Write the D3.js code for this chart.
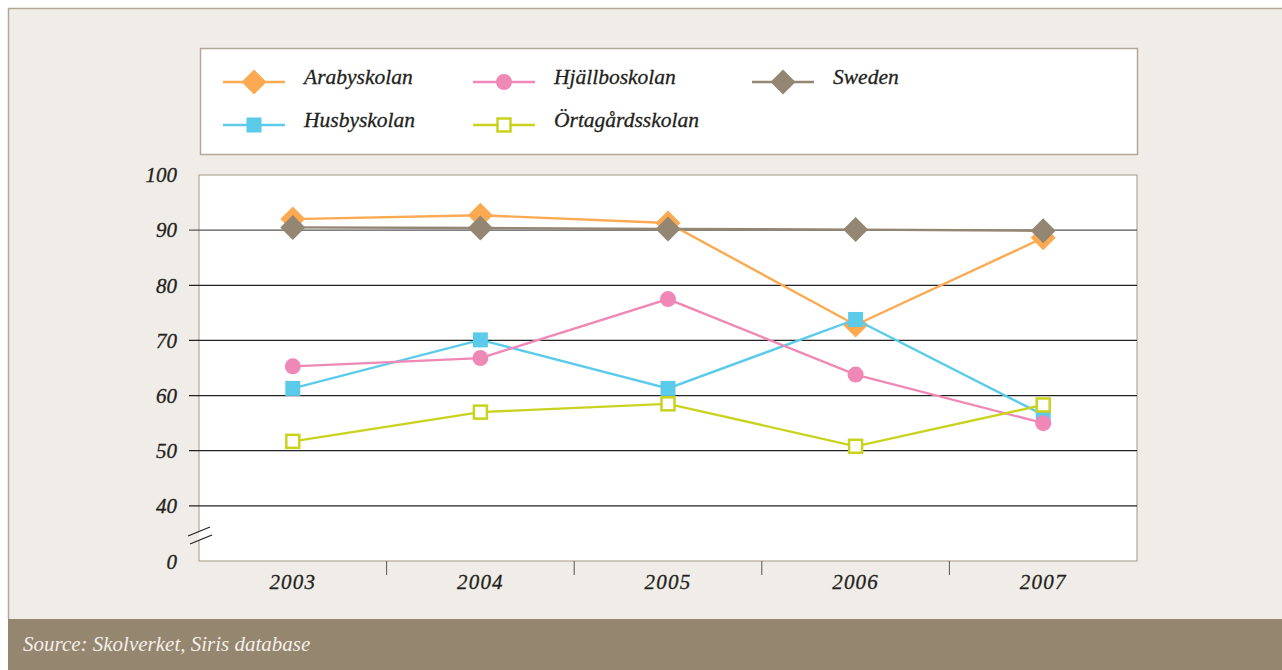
<!DOCTYPE html>
<html><head><meta charset="utf-8">
<script src="https://cdn.jsdelivr.net/npm/d3@7"></script>
<style>
html,body{margin:0;padding:0;background:#fff;}
svg{display:block;}
text{font-family:"Liberation Serif","DejaVu Serif",serif;font-style:italic;}
</style></head>
<body>
<svg id="chart" width="1282" height="670"></svg>
<script>
const years = ["2003","2004","2005","2006","2007"];
const arabyskolan = [92.0, 92.7, 91.3, 72.8, 88.6];
const hjallboskolan = [65.3, 66.8, 77.5, 63.8, 55.0];
const husbyskolan = [61.3, 70.1, 61.3, 73.8, 56.5];
const ortagardsskolan = [51.7, 57.0, 58.5, 50.8, 58.3];
const sweden = [90.5, 90.4, 90.2, 90.1, 89.9];
const yTicks = [100, 90, 80, 70, 60, 50, 40];
const yBreakLabel = "0";
const sourceText = "Source: Skolverket, Siris database";

const series = [
  {name:"Sweden", values:sweden, color:"#938672", shape:"diamond", col:2, row:0},
  {name:"Arabyskolan", values:arabyskolan, color:"#fbaa52", shape:"diamond", col:0, row:0},
  {name:"Hjällboskolan", values:hjallboskolan, color:"#ef88b7", shape:"circle", col:1, row:0},
  {name:"Husbyskolan", values:husbyskolan, color:"#5ccbea", shape:"square", col:0, row:1},
  {name:"Örtagårdsskolan", values:ortagardsskolan, color:"#c9d31e", shape:"hollow", col:1, row:1}
];
const drawOrder = ["Arabyskolan","Sweden","Husbyskolan","Hjällboskolan","Örtagårdsskolan"];

const svg = d3.select("#chart");
const bg = "#f0ece7", frame = "#b3a898", ink = "#231f20";

// background frame
svg.append("rect").attr("x",8).attr("y",8).attr("width",1274).attr("height",611).attr("fill",bg);
svg.append("line").attr("x1",8).attr("x2",1282).attr("y1",8.5).attr("y2",8.5).attr("stroke",frame).attr("stroke-width",1.5);
svg.append("line").attr("x1",8.5).attr("x2",8.5).attr("y1",8).attr("y2",619).attr("stroke",frame).attr("stroke-width",1.5);
// footer
svg.append("rect").attr("x",8).attr("y",619).attr("width",1274).attr("height",51).attr("fill","#958670");
svg.append("text").attr("x",23).attr("y",651).attr("fill","#f3efe9").attr("font-size",21).text(sourceText);

// plot area
const L = 199, R = 1137, T = 175, B = 561;
const x = d3.scaleBand().domain(years).range([L, R]);
const y = d3.scaleLinear().domain([30, 100]).range([B, T]);

svg.append("rect").attr("x",L).attr("y",T).attr("width",R-L).attr("height",B-T)
  .attr("fill","#fff").attr("stroke",frame).attr("stroke-width",1.2);

// gridlines
svg.append("g").selectAll("line").data(yTicks.filter(d=>d<100)).join("line")
  .attr("x1",L-10).attr("x2",R).attr("y1",d=>y(d)).attr("y2",d=>y(d))
  .attr("stroke",d=>d===90?"#555":"#222").attr("stroke-width",1.2);

// y labels
svg.append("g").selectAll("text").data(yTicks).join("text")
  .attr("x",177).attr("y",d=>y(d)).attr("dy","0.35em").attr("text-anchor","end")
  .attr("font-size",21).attr("fill",ink).attr("stroke",ink).attr("stroke-width",0.3).text(d=>d);
svg.append("text").attr("x",177).attr("y",y(30)+1).attr("dy","0.35em").attr("text-anchor","end")
  .attr("font-size",21).attr("fill",ink).attr("stroke",ink).attr("stroke-width",0.3).text(yBreakLabel);

// axis break marks
const bk = svg.append("g");
bk.append("polygon").attr("points","188,537 210,528 212,535 190,544").attr("fill",bg);
bk.append("polygon").attr("points","199,531 210,527 212,534 199,539").attr("fill","#fff");
bk.append("line").attr("x1",188).attr("y1",536).attr("x2",210).attr("y2",527).attr("stroke","#222").attr("stroke-width",1.2);
bk.append("line").attr("x1",190).attr("y1",544).attr("x2",212).attr("y2",535).attr("stroke","#222").attr("stroke-width",1.2);

// x axis ticks and labels
svg.append("g").selectAll("line").data(years.slice(1)).join("line")
  .attr("x1",d=>x(d)).attr("x2",d=>x(d)).attr("y1",B).attr("y2",B+14)
  .attr("stroke","#555").attr("stroke-width",1);
svg.append("g").selectAll("text").data(years).join("text")
  .attr("x",d=>x(d)+x.bandwidth()/2).attr("y",589).attr("text-anchor","middle")
  .attr("font-size",21).attr("letter-spacing",1.2).attr("fill",ink).attr("stroke",ink).attr("stroke-width",0.3).text(d=>d);

function marker(g, shape, color, cx, cy) {
  if (shape==="diamond") {
    const s=12.5;
    g.append("path").attr("d",`M${cx},${cy-s}L${cx+s},${cy}L${cx},${cy+s}L${cx-s},${cy}Z`).attr("fill",color);
  } else if (shape==="circle") {
    g.append("circle").attr("cx",cx).attr("cy",cy).attr("r",8).attr("fill",color);
  } else if (shape==="square") {
    g.append("rect").attr("x",cx-7.5).attr("y",cy-7.5).attr("width",15).attr("height",15).attr("fill",color);
  } else {
    g.append("rect").attr("x",cx-6.5).attr("y",cy-6.5).attr("width",13).attr("height",13).attr("fill","#fff").attr("stroke",color).attr("stroke-width",2.5);
  }
}

const line = d3.line().x((d,i)=>x(years[i])+x.bandwidth()/2).y(d=>y(d));
drawOrder.forEach(n=>{
  const s = series.find(q=>q.name===n);
  const g = svg.append("g");
  g.append("path").attr("d",line(s.values)).attr("fill","none").attr("stroke",s.color).attr("stroke-width",2.4);
  s.values.forEach((v,i)=>marker(g, s.shape, s.color, x(years[i])+x.bandwidth()/2, y(v)));
});

// legend
svg.append("rect").attr("x",200.5).attr("y",48.5).attr("width",937).attr("height",106)
  .attr("fill","#fff").attr("stroke",frame).attr("stroke-width",1.5);
const colX = [223, 473, 752], rowY = [82, 125];
series.forEach(s=>{
  const lx = colX[s.col], ly = rowY[s.row];
  const g = svg.append("g");
  g.append("line").attr("x1",lx).attr("x2",lx+62).attr("y1",ly).attr("y2",ly).attr("stroke",s.color).attr("stroke-width",2.4);
  marker(g, s.shape, s.color, lx+31, ly);
  g.append("text").attr("x",lx+81).attr("y",ly-4).attr("dy","0.3em").attr("font-size",21.5)
    .attr("fill",ink).attr("stroke",ink).attr("stroke-width",0.3).text(s.name);
});
</script>
</body></html>
